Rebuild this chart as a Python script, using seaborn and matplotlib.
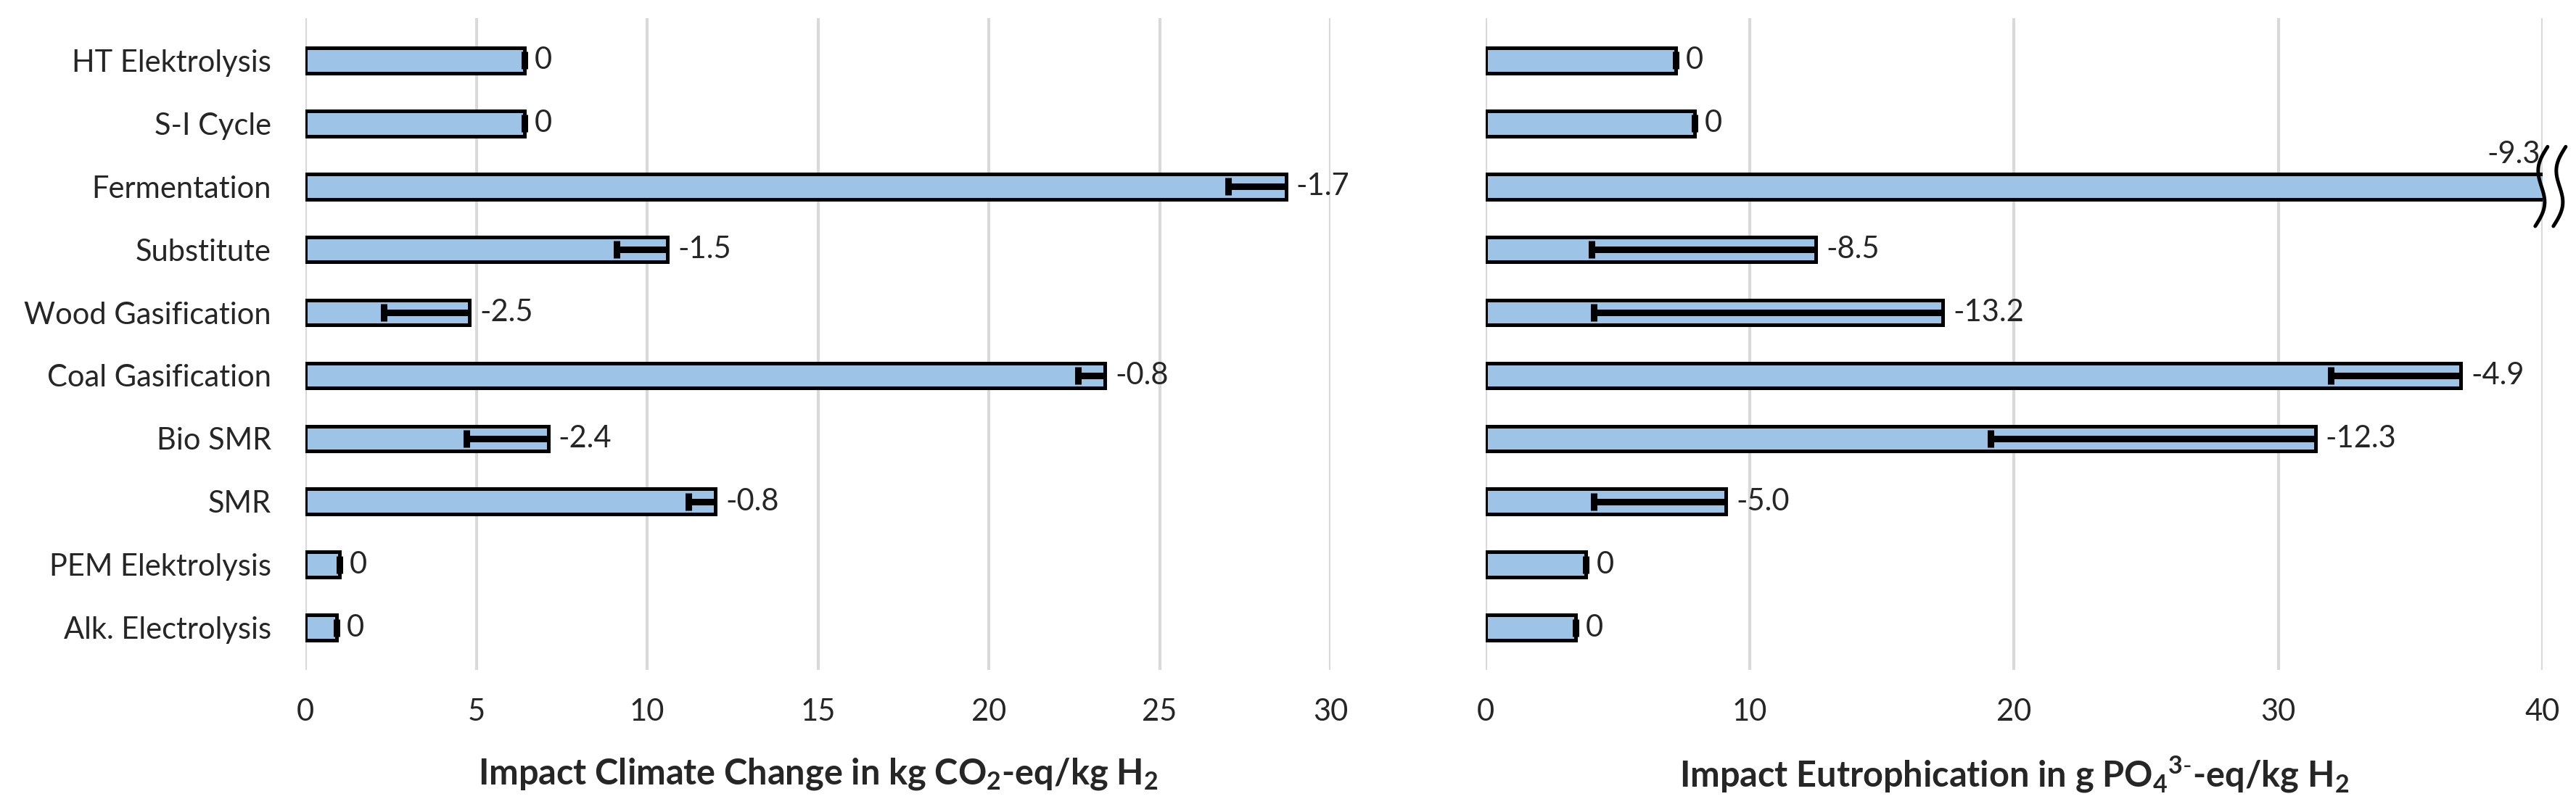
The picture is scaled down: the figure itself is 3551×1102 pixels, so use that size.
import numpy as np
import pandas as pd
import seaborn as sns
import matplotlib.pyplot as plt
from matplotlib.transforms import blended_transform_factory

# data (top to bottom)
categories = ["HT Elektrolysis", "S-I Cycle", "Fermentation", "Substitute",
              "Wood Gasification", "Coal Gasification", "Bio SMR", "SMR",
              "PEM Elektrolysis", "Alk. Electrolysis"]
climate = [6.4, 6.4, 28.7, 10.6, 4.8, 23.4, 7.1, 12.0, 1.0, 0.9]
climate_err = [0, 0, 1.7, 1.5, 2.5, 0.8, 2.4, 0.8, 0, 0]
# Fermentation runs off the axis (axis broken at 40), true value not shown
eutro = [7.2, 7.9, 55.0, 12.5, 17.3, 36.9, 31.4, 9.1, 3.8, 3.4]
eutro_err = [0, 0, 9.3, 8.5, 13.2, 4.9, 12.3, 5.0, 0, 0]

climate_ticks = [0, 5, 10, 15, 20, 25, 30]
eutro_ticks = [0, 10, 20, 30, 40]

bar_color = "#9DC3E6"
grid_color = "#D9D9D9"

sns.set_style("white")
plt.rcParams["font.family"] = ["Lato", "DejaVu Sans"]
plt.rcParams["mathtext.fontset"] = "custom"
plt.rcParams["mathtext.rm"] = "Lato"
plt.rcParams["mathtext.bf"] = "Lato:bold"

fig = plt.figure(figsize=(35.51, 11.02), dpi=100)
ax1 = fig.add_axes([0.1186, 0.1615, 0.3979, 0.8158])
ax2 = fig.add_axes([0.5767, 0.1615, 0.4103, 0.8158])


def draw_panel(ax, values, errs, ticks, xlabel, broken=None):
    df = pd.DataFrame({"process": categories, "value": values})
    sns.barplot(data=df, x="value", y="process", orient="h", color=bar_color,
                saturation=1, edgecolor="black", linewidth=3.6, width=0.4,
                errorbar=None, ax=ax, zorder=2)
    vals = np.array(values)
    err = np.array(errs)
    ypos = np.arange(len(categories))
    # one-sided (minus) error bars with a cap on the low end only
    ax.errorbar(vals, ypos, xerr=[err, np.zeros_like(err)], fmt="none",
                ecolor="black", elinewidth=6.5, capsize=0, zorder=3)
    ax.plot(vals - err, ypos, ls="none", marker="|", ms=17, mew=6.5,
            color="black", zorder=4)

    for i, (v, e) in enumerate(zip(vals, err)):
        label = "0" if e == 0 else f"-{e:.1f}"
        if i == broken:
            ax.annotate(label, xy=(ticks[-1], i - 0.2), xytext=(-3, 15),
                        textcoords="offset pixels", ha="right", va="baseline",
                        fontsize=30)
        else:
            ax.annotate(label, xy=(v, i), xytext=(14, 0),
                        textcoords="offset pixels", ha="left", va="center",
                        fontsize=30)

    ax.set_xlim(ticks[0], ticks[-1])
    ax.set_xticks(ticks)
    ax.grid(axis="x", color=grid_color, lw=3)
    ax.grid(axis="y", visible=False)
    ax.set_axisbelow(True)
    sns.despine(ax=ax, left=True, bottom=True)
    ax.tick_params(axis="both", length=0, labelsize=30)
    ax.tick_params(axis="x", pad=28)
    ax.tick_params(axis="y", pad=34)
    ax.set_ylabel("")
    ax.set_xlabel(xlabel, fontsize=35, fontweight="bold", va="center")
    ax.xaxis.set_label_coords(0.5, -0.16)

    if broken is not None:
        # axis break marks at the end of the clipped bar
        trans = blended_transform_factory(ax.transAxes, ax.transData)
        w = ax.get_position().width * fig.get_figwidth() * fig.dpi
        t = np.linspace(-1, 1, 60)
        dx = 8.3 * np.sin(np.pi * t) - 8.5 * t - 1.5
        dy = t * 0.63
        for shift in (0, 25):
            ax.plot(1 + (dx + shift) / w, broken + dy, color="black", lw=3.6,
                    transform=trans, clip_on=False, zorder=5)


draw_panel(ax1, climate, climate_err, climate_ticks,
           r"Impact Climate Change in kg CO$\mathregular{_2}$-eq/kg H$\mathregular{_2}$")
draw_panel(ax2, eutro, eutro_err, eutro_ticks,
           r"Impact Eutrophication in g PO$\mathregular{_4}$$\mathregular{^{3\text{-}}}$-eq/kg H$\mathregular{_2}$",
           broken=2)
ax2.tick_params(axis="y", labelleft=False)

fig.savefig("out.png", dpi=100)
